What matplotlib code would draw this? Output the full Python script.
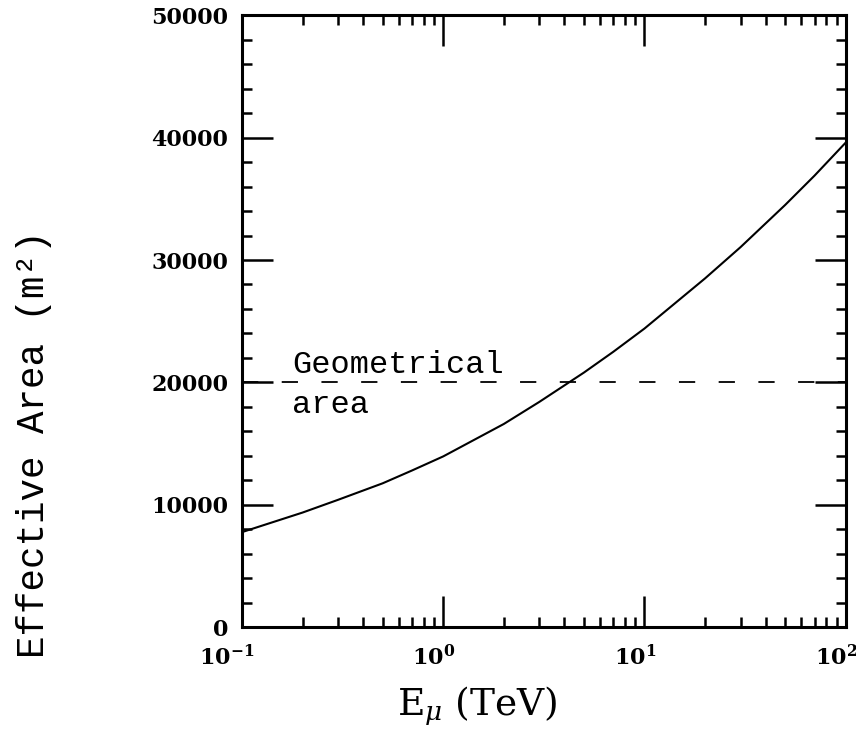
import numpy as np
import matplotlib
matplotlib.use("Agg")
import matplotlib.pyplot as plt
import matplotlib.transforms as mtransforms
from matplotlib.ticker import FixedLocator, LogLocator, MultipleLocator, NullFormatter

# Donnees
energy = [0.1, 0.2, 0.3, 0.5, 0.7, 1.0, 2.0, 3.0, 5.0, 7.0, 10.0, 20.0, 30.0, 50.0, 70.0, 100.0]
area = [7760, 9360, 10400, 11750, 12800, 13950, 16600, 18400, 20800, 22500,
        24400, 28500, 31050, 34500, 36900, 39600]
geo_area = 20000
xticks = [0.1, 1, 10, 100]
xticklabels = [r"$\mathbf{10^{-1}}$", r"$\mathbf{10^{0}}$", r"$\mathbf{10^{1}}$", r"$\mathbf{10^{2}}$"]
yticks = [0, 10000, 20000, 30000, 40000, 50000]

plt.rcParams["mathtext.fontset"] = "custom"
plt.rcParams["mathtext.rm"] = "DejaVu Serif"
plt.rcParams["mathtext.it"] = "DejaVu Serif:italic"
plt.rcParams["mathtext.bf"] = "DejaVu Serif:bold"

fig = plt.figure(figsize=(8.56, 7.3), dpi=100)
ax = fig.add_axes([0.2827, 0.141, 0.7053, 0.838])

ax.plot(energy, area, color="black", lw=1.5)
ax.axhline(geo_area, color="black", lw=1.3, linestyle=(0, (9, 13)))

ax.set_xscale("log")
ax.set_xlim(0.1, 100)
ax.set_ylim(0, 50000)

ax.xaxis.set_major_locator(FixedLocator(xticks))
ax.set_xticklabels(xticklabels, fontsize=16)
ax.xaxis.set_minor_locator(LogLocator(base=10, subs=np.arange(2, 10)))
ax.xaxis.set_minor_formatter(NullFormatter())
ax.yaxis.set_major_locator(FixedLocator(yticks))
ax.set_yticklabels([str(v) for v in yticks], fontsize=16,
                   fontfamily="DejaVu Serif", fontweight="bold")
ax.yaxis.set_minor_locator(MultipleLocator(2000))

ax.tick_params(which="both", direction="in", top=True, right=True, width=1.8)
ax.tick_params(which="major", length=22, pad=10)
ax.tick_params(axis="x", which="major", pad=12)
ax.tick_params(which="minor", length=7)
for s in ax.spines.values():
    s.set_linewidth(2.2)

# etiquettes x alignees a droite, un peu decalees
decal = mtransforms.ScaledTranslation(12 / 100, 0, fig.dpi_scale_trans)
for lab in ax.get_xticklabels():
    lab.set_horizontalalignment("right")
    lab.set_transform(lab.get_transform() + decal)

ax.text(0.177, 20750, "Geometrical", fontsize=23, fontfamily="Liberation Mono")
ax.text(0.177, 17480, "area", fontsize=23, fontfamily="Liberation Mono")

ax.set_xlabel(r"E$_\mu$ (TeV)", fontsize=27, fontfamily="DejaVu Serif")
ax.xaxis.set_label_coords(0.389, -0.094)
ax.set_ylabel("Effective Area (m²)", fontsize=27, fontfamily="Liberation Mono")
ax.yaxis.set_label_coords(-0.315, 0.299)

fig.savefig("out.png", dpi=100)
